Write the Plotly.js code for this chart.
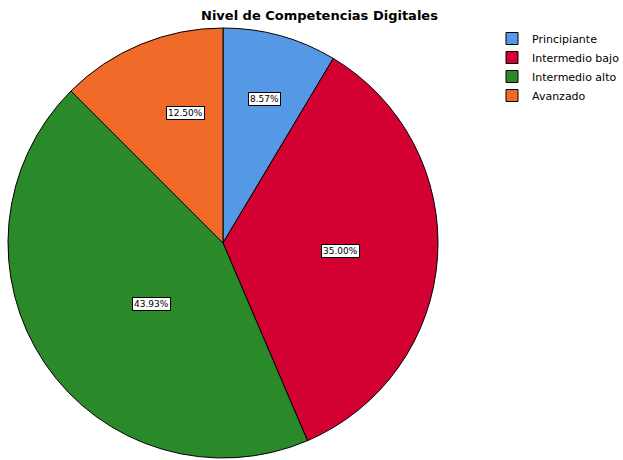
<!DOCTYPE html>
<html><head><meta charset="utf-8">
<script src="https://cdn.plot.ly/plotly-3.0.1.min.js"></script>
<style>html,body{margin:0;padding:0;background:#fff}</style>
</head><body>
<div id="chart" style="width:623px;height:460px"></div>
<script>
const categories = ["Principiante", "Intermedio bajo", "Intermedio alto", "Avanzado"];
const counts = [24, 98, 123, 35];
const colors = ["#5599e6", "#d30032", "#2a8a2a", "#f06a2a"];
const labelRadius = [0.73, 0.55, 0.51, 0.69];

const W = 623, H = 460;
const dom = {x: [8 / W, 438 / W], y: [2 / H, 432 / H]};
const total = counts.reduce((a, b) => a + b, 0);
const cx = (dom.x[0] + dom.x[1]) / 2, cy = (dom.y[0] + dom.y[1]) / 2;
const Rpx = 215;
let cum = 0;
const annotations = counts.map((v, i) => {
  const mid = (cum + v / 2) / total * 2 * Math.PI;
  cum += v;
  const r = Rpx * labelRadius[i];
  return {
    xref: 'paper', yref: 'paper',
    x: cx + r * Math.sin(mid) / W,
    y: cy + r * Math.cos(mid) / H,
    text: (v / total * 100).toFixed(2) + '%',
    showarrow: false,
    font: {family: 'DejaVu Sans', size: 9, color: '#000'},
    bgcolor: '#ffffff', bordercolor: '#000000', borderwidth: 1, borderpad: 1
  };
});
annotations.push({
  xref: 'paper', yref: 'paper', x: 320 / W, y: 1 - 15 / H, yanchor: 'middle', xanchor: 'center',
  text: '<b>Nivel de Competencias Digitales</b>', showarrow: false,
  font: {family: 'DejaVu Sans', size: 13, color: '#000'}
});

const trace = {
  type: 'pie', labels: categories, values: counts, sort: false,
  direction: 'clockwise', rotation: 0,
  marker: {colors: colors, line: {color: '#000', width: 1}},
  textinfo: 'none', hoverinfo: 'label+percent',
  domain: dom
};
const layout = {
  width: W, height: H, margin: {l: 0, r: 0, t: 0, b: 0, autoexpand: false},
  paper_bgcolor: '#fff', showlegend: true,
  legend: {x: 492 / W, y: 1 - 24 / H, xanchor: 'left', yanchor: 'top',
    font: {family: 'DejaVu Sans', size: 11, color: '#000'}, bgcolor: 'rgba(0,0,0,0)', itemwidth: 30},
  annotations: annotations
};
Plotly.newPlot('chart', [trace], layout, {displayModeBar: false, staticPlot: true});
</script>
</body></html>
